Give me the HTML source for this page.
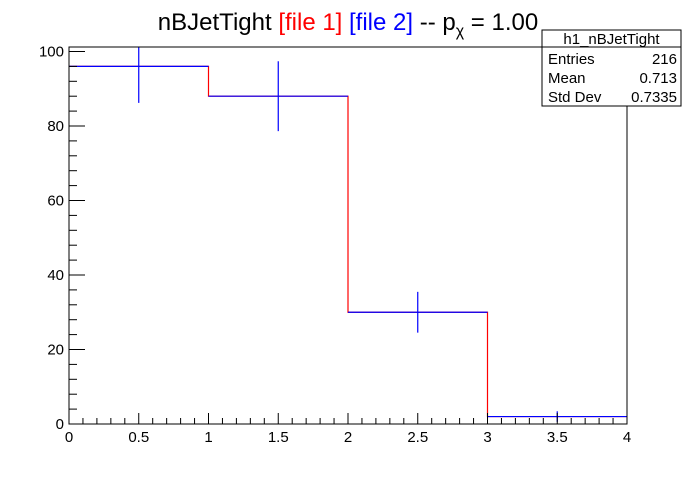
<!DOCTYPE html>
<html><head><meta charset="utf-8"><style>
body{margin:0;background:#fff;font-family:"Liberation Sans",sans-serif}
</style></head><body>
<svg id="c" width="696" height="472" xmlns="http://www.w3.org/2000/svg">
<text x="348" y="30" font-size="24" text-anchor="middle">nBJetTight <tspan fill="#f00">[file 1]</tspan> <tspan fill="#00f">[file 2]</tspan> -- p<tspan font-size="16" dy="6">χ</tspan><tspan dy="-6"> = 1.00</tspan></text>
<g id="marks"></g>
<rect x="69" y="47" width="558" height="377" fill="none" stroke="#000"/>
<g id="ax"></g>
<g>
<rect x="542" y="30" width="139" height="76" fill="#fff" stroke="#000"/>
<line x1="542" y1="47" x2="681" y2="47" stroke="#000"/>
<text x="611.5" y="44" font-size="15" text-anchor="middle">h1_nBJetTight</text>
<text x="548" y="64" font-size="15">Entries</text><text x="677" y="64" font-size="15" text-anchor="end">216</text>
<text x="548" y="83" font-size="15">Mean</text><text x="677" y="83" font-size="15" text-anchor="end">0.713</text>
<text x="548" y="102" font-size="15">Std Dev</text><text x="677" y="102" font-size="15" text-anchor="end">0.7335</text>
</g>
</svg>
<script>
const binEdges=[0,1,2,3,4];
const counts=[96,88,30,2];
const xTicks=[0,0.5,1,1.5,2,2.5,3,3.5,4];
const xTickLabels=["0","0.5","1","1.5","2","2.5","3","3.5","4"];
const yTicks=[0,20,40,60,80,100];
const yTickLabels=["0","20","40","60","80","100"];
const NS="http://www.w3.org/2000/svg";
const X=v=>69+v*139.5, Y=v=>424-v*3.725;
function mk(p,t,a){const e=document.createElementNS(NS,t);for(const k in a)e.setAttribute(k,a[k]);p.appendChild(e);return e;}
const ax=document.getElementById('ax'),mg=document.getElementById('marks');
for(let i=0;i<=40;i++){const v=i*0.1;const big=i%5==0;
 const l=mk(ax,'line',{x1:X(v),x2:X(v),y1:424,y2:424-(big?11:6),stroke:'#000'});
 
 }
xTicks.forEach((v,i)=>{const t=mk(ax,'text',{x:X(v),y:442,'font-size':15,'text-anchor':'middle'});t.textContent=xTickLabels[i];
 
 });
for(let v=0;v<=100;v+=4){const big=v%20==0;
 const l=mk(ax,'line',{x1:69,x2:69+(big?16:8),y1:Y(v),y2:Y(v),stroke:'#000'});
 
 }
yTicks.forEach((v,i)=>{const t=mk(ax,'text',{x:64,y:Y(v)+5,'font-size':15,'text-anchor':'end'});t.textContent=yTickLabels[i];
 
 });
let d='M'+X(binEdges[0])+','+Y(counts[0]);
counts.forEach((c,i)=>{d+=' L'+X(binEdges[i])+','+Y(c)+' L'+X(binEdges[i+1])+','+Y(c);});
const p=mk(mg,'path',{d:d,fill:'none',stroke:'#f00','stroke-width':1.2});


counts.forEach((c,i)=>{const g=mk(mg,'g',{stroke:'#00f','stroke-width':1.2});
 
 
 const e=Math.sqrt(c),xc=(binEdges[i]+binEdges[i+1])/2;
 mk(g,'line',{x1:X(binEdges[i]),x2:X(binEdges[i+1]),y1:Y(c),y2:Y(c)});
 mk(g,'line',{x1:X(xc),x2:X(xc),y1:Math.max(Y(c+e),47),y2:Y(c-e)});});
</script>
</body></html>
